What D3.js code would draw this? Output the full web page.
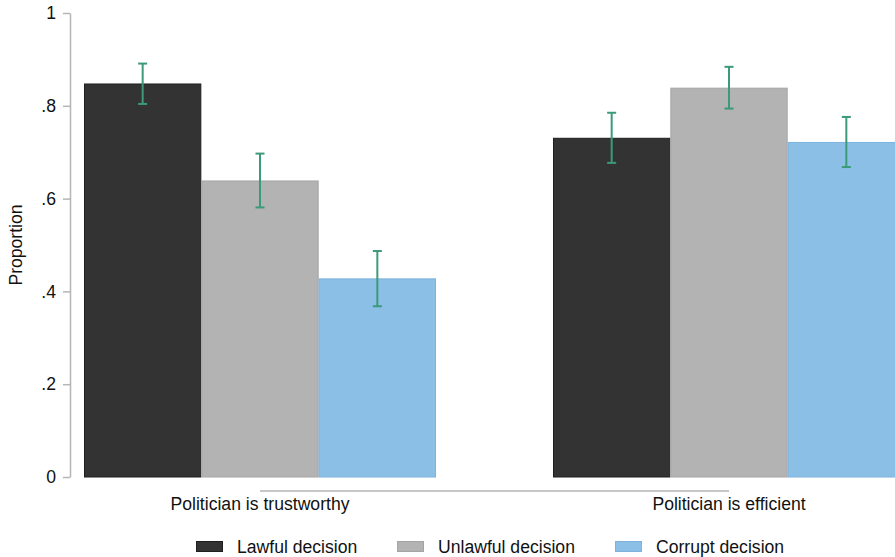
<!DOCTYPE html>
<html>
<head>
<meta charset="utf-8">
<script src="https://cdn.jsdelivr.net/npm/d3@7"></script>
<style>
  html, body { margin: 0; padding: 0; background: #fff; }
  svg { display: block; font-family: "Liberation Sans", Arial, Helvetica, sans-serif; }
</style>
</head>
<body>
<svg id="chart" width="895" height="557"></svg>
<script>
// ---- data ----
const groups = ["Politician is trustworthy", "Politician is efficient"];
const series = ["Lawful decision", "Unlawful decision", "Corrupt decision"];
const seriesColors = ["#333333", "#b3b3b3", "#8bbfe6"];
const seriesStroke = ["#1e1e1e", "#a4a4a4", "#7cb2dd"];
const means = [
  [0.847, 0.638, 0.427],
  [0.730, 0.838, 0.721]
];
const lower = [
  [0.804, 0.581, 0.368],
  [0.677, 0.794, 0.668]
];
const upper = [
  [0.891, 0.697, 0.487],
  [0.785, 0.884, 0.776]
];
const yTicks = [0, 0.2, 0.4, 0.6, 0.8, 1];
const yTickLabels = ["0", ".2", ".4", ".6", ".8", "1"];
const yTitle = "Proportion";

// ---- layout ----
const svg = d3.select("#chart");
const fs = 17.6;
const axisColor = "#b5b5b5";
const errColor = "#3b9a78";

const y = d3.scaleLinear().domain([0, 1]).range([477, 13]);
const x0 = d3.scaleBand().domain(groups).range([84, 905]).paddingInner(117 / 469).paddingOuter(0);
const x1 = d3.scaleBand().domain(series).range([0, x0.bandwidth()]).padding(0);

// bars
const barData = [];
groups.forEach((g, gi) => series.forEach((s, si) => {
  barData.push({ g, s, si, v: means[gi][si], lo: lower[gi][si], hi: upper[gi][si] });
}));

svg.append("g").selectAll("rect").data(barData).join("rect")
  .attr("x", d => x0(d.g) + x1(d.s) + 0.5)
  .attr("y", d => y(d.v))
  .attr("width", x1.bandwidth() - 1)
  .attr("height", d => y(0) - y(d.v))
  .attr("fill", d => seriesColors[d.si])
  .attr("stroke", d => seriesStroke[d.si])
  .attr("stroke-width", 1);

// error bars
const eg = svg.append("g").attr("stroke", errColor).attr("stroke-width", 2).attr("fill", "none");
barData.forEach(d => {
  const cx = x0(d.g) + x1(d.s) + x1.bandwidth() / 2;
  eg.append("line").attr("x1", cx).attr("x2", cx).attr("y1", y(d.hi)).attr("y2", y(d.lo));
  eg.append("line").attr("x1", cx - 4.5).attr("x2", cx + 4.5).attr("y1", y(d.hi)).attr("y2", y(d.hi));
  eg.append("line").attr("x1", cx - 4.5).attr("x2", cx + 4.5).attr("y1", y(d.lo)).attr("y2", y(d.lo));
});

// y axis
const yAxis = d3.axisLeft(y).tickValues(yTicks)
  .tickFormat((d, i) => yTickLabels[i]).tickSize(7).tickSizeOuter(0).tickPadding(7);
const ya = svg.append("g").attr("transform", "translate(70,0)").call(yAxis);
ya.select(".domain").attr("stroke", axisColor).attr("stroke-width", 1.5);
ya.selectAll(".tick line").attr("stroke", axisColor).attr("stroke-width", 1.5);
ya.selectAll(".tick text").attr("fill", "#111").style("font-size", fs + "px")
  .style("font-family", "'Liberation Sans', Arial, sans-serif");

svg.append("text")
  .attr("transform", "translate(22,245) rotate(-90)")
  .attr("text-anchor", "middle")
  .attr("fill", "#111")
  .style("font-size", fs + "px")
  .text(yTitle);

// x axis line between group centers
const c0 = x0(groups[0]) + x0.bandwidth() / 2;
const c1 = x0(groups[1]) + x0.bandwidth() / 2;
svg.append("line").attr("x1", c0).attr("x2", c1).attr("y1", 491).attr("y2", 491)
  .attr("stroke", axisColor).attr("stroke-width", 1.5);

svg.append("g").selectAll("text").data(groups).join("text")
  .attr("x", g => x0(g) + x0.bandwidth() / 2)
  .attr("y", 510)
  .attr("text-anchor", "middle")
  .attr("fill", "#111")
  .style("font-size", fs + "px")
  .text(g => g);

// legend
const legX = [196, 397, 615];
const lg = svg.append("g");
series.forEach((s, i) => {
  lg.append("rect").attr("x", legX[i] + 0.5).attr("y", 541.5).attr("width", 26).attr("height", 10)
    .attr("fill", seriesColors[i]).attr("stroke", seriesStroke[i]).attr("stroke-width", 1);
  lg.append("text").attr("x", legX[i] + 41).attr("y", 552.5)
    .attr("fill", "#111").style("font-size", fs + "px").text(s);
});
</script>
</body>
</html>
